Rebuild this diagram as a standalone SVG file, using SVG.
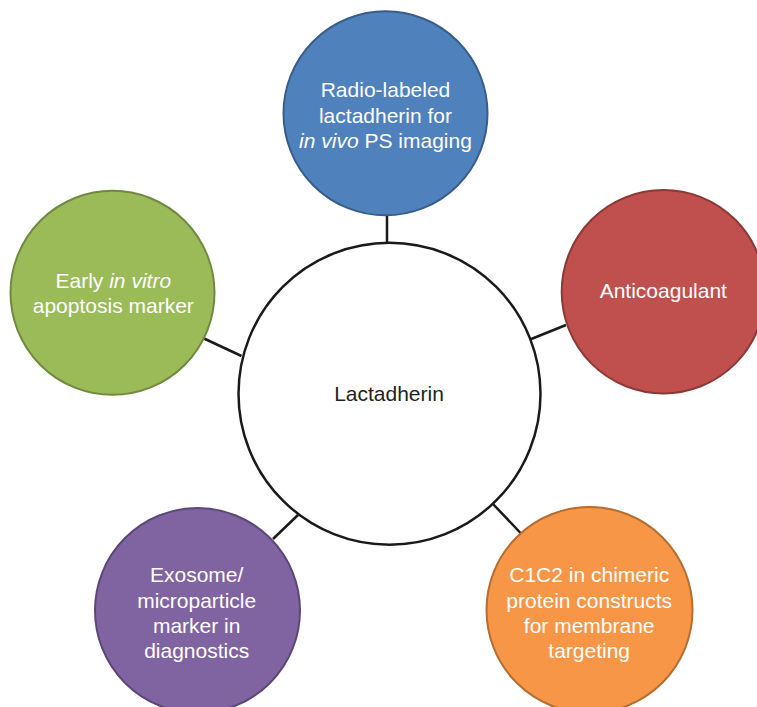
<svg xmlns="http://www.w3.org/2000/svg" width="757" height="707" viewBox="0 0 757 707">
  <style>
    .link { stroke: #1a1a1a; stroke-width: 2.5; fill: none; }
    .hub { fill: #ffffff; stroke: #1a1a1a; stroke-width: 2.5; }
    .label { font-family: "Liberation Sans", Arial, sans-serif; font-size: 21px; text-anchor: middle; fill: #ffffff; }
    .hub-label { font-family: "Liberation Sans", Arial, sans-serif; font-size: 21px; text-anchor: middle; fill: #231f20; }
    .blue { fill: #4f81bd; stroke: #385d8a; stroke-width: 2; }
    .red { fill: #c0504d; stroke: #8c3836; stroke-width: 2; }
    .green { fill: #9bbb59; stroke: #71893f; stroke-width: 2; }
    .purple { fill: #8064a2; stroke: #5c4776; stroke-width: 2; }
    .orange { fill: #f79646; stroke: #b66d31; stroke-width: 2; }
  </style>
  <rect width="757" height="707" fill="#ffffff"/>

  <g id="connectors">
    <line class="link" x1="387" y1="214" x2="387" y2="244"/>
    <line class="link" x1="530" y1="339.5" x2="566" y2="325"/>
    <line class="link" x1="204" y1="338.5" x2="241.5" y2="356"/>
    <line class="link" x1="298" y1="515" x2="273" y2="539"/>
    <line class="link" x1="493" y1="504" x2="521.5" y2="534"/>
  </g>

  <g id="lactadherin">
    <circle class="hub" cx="389.5" cy="393.7" r="151"/>
    <text class="hub-label" x="389" y="400.5">Lactadherin</text>
  </g>

  <g id="imaging">
    <circle class="blue" cx="385.5" cy="113.3" r="102"/>
    <text class="label" x="385.5" y="96.7">Radio-labeled</text>
    <text class="label" x="385.5" y="122.5">lactadherin for</text>
    <text class="label" x="385.5" y="148"><tspan font-style="italic">in vivo</tspan> PS imaging</text>
  </g>

  <g id="anticoagulant">
    <circle class="red" cx="663.4" cy="291.7" r="101.7"/>
    <text class="label" x="663.3" y="298.3">Anticoagulant</text>
  </g>

  <g id="apoptosis">
    <circle class="green" cx="112.5" cy="292.8" r="102"/>
    <text class="label" x="113.3" y="288.3">Early <tspan font-style="italic">in vitro</tspan></text>
    <text class="label" x="113.3" y="313">apoptosis marker</text>
  </g>

  <g id="exosome">
    <circle class="purple" cx="197.5" cy="610.5" r="102.5"/>
    <text class="label" x="196.7" y="581.7">Exosome/</text>
    <text class="label" x="196.7" y="608.3">microparticle</text>
    <text class="label" x="196.7" y="633.3">marker in</text>
    <text class="label" x="196.7" y="658.3">diagnostics</text>
  </g>

  <g id="c1c2">
    <circle class="orange" cx="589.5" cy="610" r="103"/>
    <text class="label" x="589.2" y="581.7">C1C2 in chimeric</text>
    <text class="label" x="589.2" y="608.3">protein constructs</text>
    <text class="label" x="589.2" y="633.3">for membrane</text>
    <text class="label" x="589.2" y="658.3">targeting</text>
  </g>
</svg>
